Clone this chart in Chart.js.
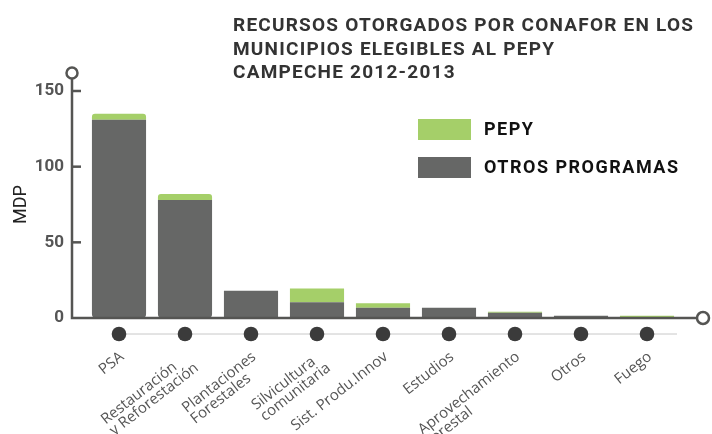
<!DOCTYPE html>
<html>
<head>
<meta charset="utf-8">
<script src="https://cdn.jsdelivr.net/npm/chart.js@4"></script>
<style>
  html, body { margin: 0; padding: 0; background: #fff; }
  #wrap { position: relative; width: 712px; height: 434px; }
</style>
</head>
<body>
<div id="wrap"><canvas id="graficoRecursos" width="712" height="434"></canvas></div>
<script>
var categorias = [
  'PSA',
  ['Restauración', 'y Reforestación'],
  ['Plantaciones', 'Forestales'],
  ['Silvicultura', 'comunitaria'],
  'Sist. Produ.Innov',
  'Estudios',
  ['Aprovechamiento', 'forestal'],
  'Otros',
  'Fuego'
];
var otrosProgramas = [131, 78, 18, 10.4, 6.7, 6.8, 3.4, 1.5, 0];
var pepy = [4, 4, 0, 9.1, 3.1, 0, 0.8, 0, 1.5];
var ticksY = [0, 50, 100, 150];
var titulo = [
  'RECURSOS OTORGADOS POR CONAFOR EN LOS',
  'MUNICIPIOS ELEGIBLES AL PEPY',
  'CAMPECHE 2012-2013'
];

var VERDE = '#a5cf69';
var GRIS = '#666766';
var EJE = '#555553';

// ajusta el espaciado para que el texto ocupe el ancho dado
function espaciar(ctx, texto, ancho) {
  ctx.letterSpacing = '0px';
  var w = ctx.measureText(texto).width;
  ctx.letterSpacing = ((ancho - w) / (texto.length - 1)) + 'px';
}

// titulo, leyenda, ejes con circulos, puntos y etiquetas de categoria
var decoracion = {
  id: 'decoracion',
  afterDraw: function(chart) {
    var ctx = chart.ctx;
    var x = chart.scales.x, y = chart.scales.y;
    var base = y.getPixelForValue(0);
    var ejeX = 72;
    ctx.save();

    // titulo
    ctx.fillStyle = '#333';
    ctx.font = 'bold 19px Roboto';
    ctx.textAlign = 'left';
    ctx.textBaseline = 'alphabetic';
    espaciar(ctx, titulo[0], 460);
    titulo.forEach(function(t, i) {
      ctx.fillText(t, 233, 31 + i * 23.5);
    });

    // leyenda
    var items = [[VERDE, 'PEPY'], [GRIS, 'OTROS PROGRAMAS']];
    ctx.font = 'bold 18px Roboto';
    espaciar(ctx, items[1][1], 194);
    items.forEach(function(it, i) {
      var top = 119 + i * 38;
      ctx.fillStyle = it[0];
      ctx.fillRect(418, top, 53, 21);
      ctx.fillStyle = '#111';
      ctx.textBaseline = 'middle';
      ctx.fillText(it[1], 484, top + 11);
    });
    ctx.letterSpacing = '0px';

    // linea de puntos
    var yPuntos = base + 16;
    ctx.strokeStyle = '#c8c8c8';
    ctx.lineWidth = 1;
    ctx.beginPath();
    ctx.moveTo(x.getPixelForValue(0), yPuntos);
    ctx.lineTo(x.getPixelForValue(categorias.length - 1) + 30, yPuntos);
    ctx.stroke();
    ctx.fillStyle = '#3b3b3b';
    categorias.forEach(function(c, i) {
      ctx.beginPath();
      ctx.arc(x.getPixelForValue(i), yPuntos, 7.3, 0, Math.PI * 2);
      ctx.fill();
    });

    // etiquetas rotadas, lineas alineadas a la izquierda
    var fs = 15, alto = 14, ang = -38 * Math.PI / 180;
    ctx.font = fs + 'px "Open Sans"';
    ctx.fillStyle = '#555';
    ctx.textAlign = 'left';
    ctx.textBaseline = 'alphabetic';
    categorias.forEach(function(c, i) {
      var lineas = Array.isArray(c) ? c : [c];
      var ancho = Math.max.apply(null, lineas.map(function(l) { return ctx.measureText(l).width; }));
      ctx.save();
      ctx.translate(x.getPixelForValue(i) - 1, base + 32);
      ctx.rotate(ang);
      lineas.forEach(function(l, j) {
        ctx.fillText(l, -ancho, fs * 0.72 + j * alto);
      });
      ctx.restore();
    });

    // ejes
    ctx.strokeStyle = EJE;
    ctx.lineWidth = 2.5;
    ctx.beginPath();
    ctx.moveTo(ejeX, 79);
    ctx.lineTo(ejeX, base);
    ctx.lineTo(697, base);
    ctx.stroke();
    ticksY.forEach(function(v) {
      if (v === 0) return;
      var py = y.getPixelForValue(v);
      ctx.beginPath();
      ctx.moveTo(ejeX, py);
      ctx.lineTo(ejeX + 9, py);
      ctx.stroke();
    });
    ctx.fillStyle = '#fff';
    ctx.beginPath();
    ctx.arc(ejeX, 73, 5.5, 0, Math.PI * 2);
    ctx.fill();
    ctx.stroke();
    ctx.beginPath();
    ctx.arc(703, base, 6, 0, Math.PI * 2);
    ctx.fill();
    ctx.stroke();
    ctx.restore();
  }
};

var esquinas = function(ctx) {
  return ctx.dataIndex < 2 ? 4 : 0;
};

new Chart(document.getElementById('graficoRecursos').getContext('2d'), {
  type: 'bar',
  data: {
    labels: categorias,
    datasets: [{
      label: 'OTROS PROGRAMAS',
      data: otrosProgramas,
      backgroundColor: GRIS,
      borderRadius: function(ctx) {
        var r = esquinas(ctx);
        return { topLeft: 0, topRight: 0, bottomLeft: r, bottomRight: r };
      },
      borderSkipped: false
    }, {
      label: 'PEPY',
      data: pepy,
      backgroundColor: VERDE,
      borderRadius: function(ctx) {
        var r = esquinas(ctx);
        return { topLeft: r, topRight: r, bottomLeft: 0, bottomRight: 0 };
      },
      borderSkipped: false
    }]
  },
  options: {
    responsive: false,
    animation: false,
    layout: { padding: { top: 91, right: 32, left: 0, bottom: 0 } },
    plugins: {
      legend: { display: false },
      title: { display: false },
      tooltip: { enabled: false }
    },
    datasets: {
      bar: { categoryPercentage: 1, barPercentage: 0.82 }
    },
    scales: {
      x: {
        stacked: true,
        grid: { display: false, drawTicks: false },
        border: { display: false },
        afterFit: function(s) { s.height = 116; },
        ticks: { display: false }
      },
      y: {
        stacked: true,
        min: 0,
        max: 150,
        afterFit: function(s) { s.width = 86; },
        afterBuildTicks: function(s) {
          s.ticks = ticksY.map(function(v) { return { value: v }; });
        },
        grid: { display: false, drawTicks: false },
        border: { display: false },
        ticks: {
          padding: 22,
          color: '#555',
          font: { family: 'Roboto', size: 17, weight: 'bold' }
        },
        title: {
          display: true,
          text: 'MDP',
          color: '#222',
          padding: { top: 11, bottom: 0 },
          font: { family: 'Roboto', size: 18 }
        }
      }
    }
  },
  plugins: [decoracion]
});
</script>
</body>
</html>
